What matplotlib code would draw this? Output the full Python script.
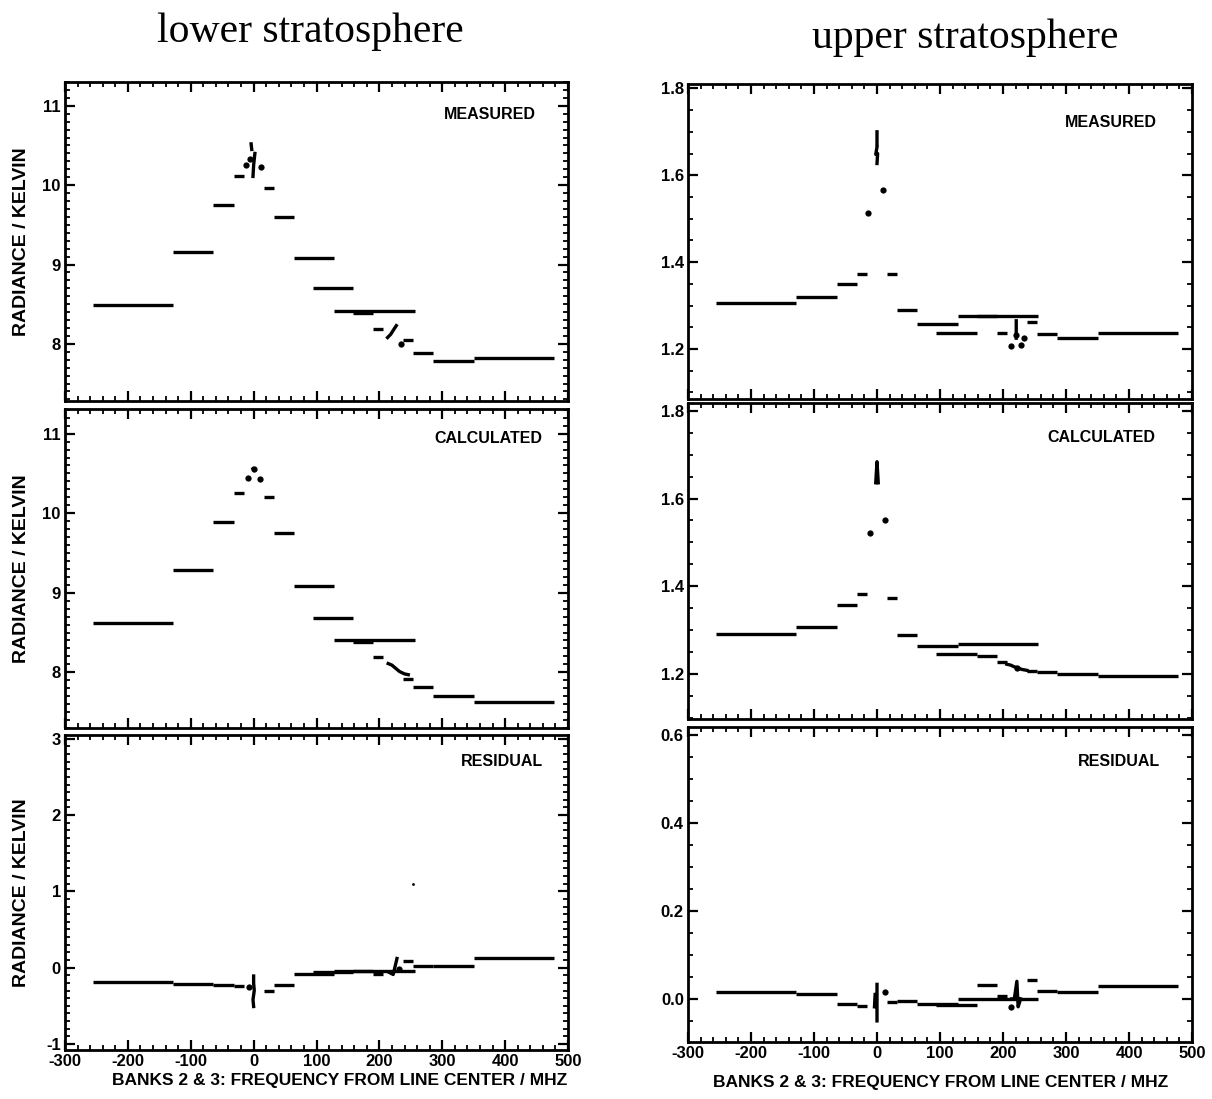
import matplotlib
matplotlib.use("Agg")
import matplotlib.pyplot as plt
from matplotlib.ticker import MultipleLocator

plt.rcParams['axes.unicode_minus'] = False
plt.rcParams['font.family'] = ['Liberation Sans', 'DejaVu Sans']

nan = float('nan')

# Filter-bank channel edges, MHz from line centre (banks 2 and 3)
chan_lo = [-256, -128, -64, -32, 16, 32, 64, 94, 128, 158, 190, 238, 254, 286, 350]
chan_hi = [-128, -64, -32, -16, 32, 64, 128, 158, 256, 190, 206, 254, 286, 350, 478]

# Lower stratosphere channel radiances (K)
lower_measured   = [8.49, 9.16, 9.75, 10.11, 9.97, 9.60, 9.08, 8.70, 8.41, 8.39, 8.19, 8.05, 7.88, 7.78, 7.82]
lower_calculated = [8.62, 9.29, 9.89, 10.25, 10.20, 9.75, 9.09, 8.68, 8.40, 8.38, 8.19, 7.91, 7.82, 7.70, 7.63]
lower_residual   = [-0.19, -0.21, -0.23, -0.24, -0.30, -0.23, -0.09, -0.06, -0.04, -0.05, -0.08, 0.09, 0.02, 0.02, 0.12]

# Upper stratosphere channel radiances (K)
upper_measured   = [1.306, 1.319, 1.349, 1.373, 1.373, 1.290, 1.257, 1.238, 1.277, 1.275, 1.238, 1.262, 1.234, 1.225, 1.236]
upper_calculated = [1.292, 1.308, 1.356, 1.383, 1.374, 1.289, 1.263, 1.246, 1.267, 1.240, 1.226, 1.207, 1.205, 1.199, 1.196]
upper_residual   = [0.015, 0.010, -0.011, -0.016, -0.006, -0.004, -0.012, -0.014, 0.000, 0.032, 0.006, 0.044, 0.018, 0.016, 0.029]

# Narrow channels near the two line centres: connected traces (nan breaks) and isolated points
lower_meas_trace_x = [-4, -3, nan, 2, 0, -1, nan, 213, 218, 222, 227]
lower_meas_trace_y = [10.52, 10.45, nan, 10.40, 10.25, 10.11, nan, 8.08, 8.12, 8.17, 8.23]
lower_meas_dot_x = [-12, -6, 11, 235]
lower_meas_dot_y = [10.25, 10.33, 10.23, 8.00]

lower_calc_trace_x = [-1, 1, nan, 214, 220, 226, 232, 240, 246]
lower_calc_trace_y = [10.56, 10.54, nan, 8.11, 8.09, 8.05, 8.01, 7.98, 7.97]
lower_calc_dot_x = [-9, 0, 10]
lower_calc_dot_y = [10.44, 10.55, 10.43]

lower_res_trace_x = [0, 0, 1, -1, 0, nan, 215, 222, 226, 228]
lower_res_trace_y = [-0.11, -0.20, -0.30, -0.42, -0.51, nan, -0.06, -0.09, 0.05, 0.12]
lower_res_dot_x = [-8, 232]
lower_res_dot_y = [-0.25, -0.02]
lower_res_speck_x = [253]
lower_res_speck_y = [1.10]

upper_meas_trace_x = [0, 0, nan, 0, -2, 1, 0, nan, 221, 221]
upper_meas_trace_y = [1.700, 1.672, nan, 1.665, 1.648, 1.650, 1.627, nan, 1.265, 1.225]
upper_meas_dot_x = [-14, 9, 212, 221, 228, 234]
upper_meas_dot_y = [1.512, 1.566, 1.207, 1.232, 1.210, 1.226]

upper_calc_trace_x = [-2, 0, 2, nan, 206, 212, 218, 223, 230, 238]
upper_calc_trace_y = [1.636, 1.684, 1.636, nan, 1.222, 1.220, 1.216, 1.214, 1.210, 1.208]
upper_calc_dot_x = [-11, 12, 223]
upper_calc_dot_y = [1.522, 1.550, 1.214]

upper_res_trace_x = [-4, -3, nan, 0, 0, 0, nan, 214, 218, 222, 224, 228]
upper_res_trace_y = [-0.018, 0.010, nan, 0.033, -0.010, -0.050, nan, 0.000, 0.000, 0.040, -0.018, 0.000]
upper_res_dot_x = [12, 212]
upper_res_dot_y = [0.015, -0.018]

x_ticks = [-300, -200, -100, 0, 100, 200, 300, 400, 500]

W, H = 1212, 1099
fig = plt.figure(figsize=(W / 100, H / 100), dpi=100)


def px_axes(x0, x1, y0, y1):
    return fig.add_axes([x0 / W, 1 - y1 / H, (x1 - x0) / W, (y1 - y0) / H])


panels = [
    # (pixel box, values, trace, dots, ylim, minor step, yticks, labels, panel name, name pos, bottom row)
    ((65, 568, 82, 401), lower_measured, (lower_meas_trace_x, lower_meas_trace_y),
     (lower_meas_dot_x, lower_meas_dot_y), (7.28, 11.30), 0.1, [8, 9, 10, 11],
     ['8', '9', '10', '11'], 'MEASURED', (0.845, 0.897), False),
    ((65, 568, 409, 728), lower_calculated, (lower_calc_trace_x, lower_calc_trace_y),
     (lower_calc_dot_x, lower_calc_dot_y), (7.30, 11.31), 0.1, [8, 9, 10, 11],
     ['8', '9', '10', '11'], 'CALCULATED', (0.841, 0.909), False),
    ((65, 568, 735, 1050), lower_residual, (lower_res_trace_x, lower_res_trace_y),
     (lower_res_dot_x, lower_res_dot_y), (-1.08, 3.05), 0.1, [-1, 0, 1, 2, 3],
     ['-1', '0', '1', '2', '3'], 'RESIDUAL', (0.869, 0.915), True),
    ((688, 1192, 84, 399), upper_measured, (upper_meas_trace_x, upper_meas_trace_y),
     (upper_meas_dot_x, upper_meas_dot_y), (1.085, 1.81), 0.05, [1.2, 1.4, 1.6, 1.8],
     ['1.2', '1.4', '1.6', '1.8'], 'MEASURED', (0.839, 0.879), False),
    ((688, 1192, 403, 719), upper_calculated, (upper_calc_trace_x, upper_calc_trace_y),
     (upper_calc_dot_x, upper_calc_dot_y), (1.097, 1.818), 0.05, [1.2, 1.4, 1.6, 1.8],
     ['1.2', '1.4', '1.6', '1.8'], 'CALCULATED', (0.82, 0.892), False),
    ((688, 1192, 727, 1042), upper_residual, (upper_res_trace_x, upper_res_trace_y),
     (upper_res_dot_x, upper_res_dot_y), (-0.098, 0.618), 0.05, [0.0, 0.2, 0.4, 0.6],
     ['0.0', '0.2', '0.4', '0.6'], 'RESIDUAL', (0.855, 0.889), True),
]

axes = []
for (box, vals, trace, dots, ylim, minor, yt, ytl, label, lpos, bottom) in panels:
    ax = px_axes(*box)
    axes.append(ax)
    ax.hlines(vals, chan_lo, chan_hi, colors='k', linewidth=2.4)
    ax.plot(trace[0], trace[1], color='k', linewidth=2.4)
    ax.plot(dots[0], dots[1], 'o', color='k', markersize=4.5, markeredgewidth=0)
    ax.set_xlim(-300, 500)
    ax.set_ylim(*ylim)
    ax.set_yticks(yt)
    ax.set_yticklabels(ytl, fontsize=12, fontweight='bold')
    ax.yaxis.set_minor_locator(MultipleLocator(minor))
    ax.set_xticks(x_ticks)
    ax.xaxis.set_minor_locator(MultipleLocator(20))
    if bottom:
        ax.set_xticklabels([str(t) for t in x_ticks], fontsize=12, fontweight='bold')
    else:
        ax.set_xticklabels([])
    ax.tick_params(which='both', direction='in', top=True, right=True, pad=3)
    ax.tick_params(which='major', length=7, width=1.6)
    ax.tick_params(which='minor', length=3.5, width=1.3)
    for s in ax.spines.values():
        s.set_linewidth(2.0)
    ax.text(lpos[0], lpos[1], label, transform=ax.transAxes, ha='center', va='center',
            fontsize=11.5, fontweight='bold')
    if box[0] < 600:
        yc = (box[2] + box[3]) / 2
        fig.text(22 / W, 1 - yc / H, 'RADIANCE / KELVIN', rotation=90, ha='center',
                 va='center', fontsize=14, fontweight='bold')

# a single tiny point in the lower-stratosphere residual panel
axes[2].plot(lower_res_speck_x, lower_res_speck_y, 'o', color='k', markersize=2, markeredgewidth=0)

xlabel = 'BANKS 2 & 3: FREQUENCY FROM LINE CENTER / MHZ'
fig.text(340 / W, 1 - 1081 / H, xlabel, ha='center', va='center', fontsize=12.5, fontweight='bold')
fig.text(941 / W, 1 - 1083 / H, xlabel, ha='center', va='center', fontsize=12.5, fontweight='bold')

fig.text(310 / W, 1 - 32 / H, 'lower stratosphere', ha='center', va='center',
         fontsize=30, family=['Liberation Serif', 'DejaVu Serif'])
fig.text(965 / W, 1 - 38 / H, 'upper stratosphere', ha='center', va='center',
         fontsize=30, family=['Liberation Serif', 'DejaVu Serif'])

fig.savefig('out.png', dpi=100, facecolor='white')
